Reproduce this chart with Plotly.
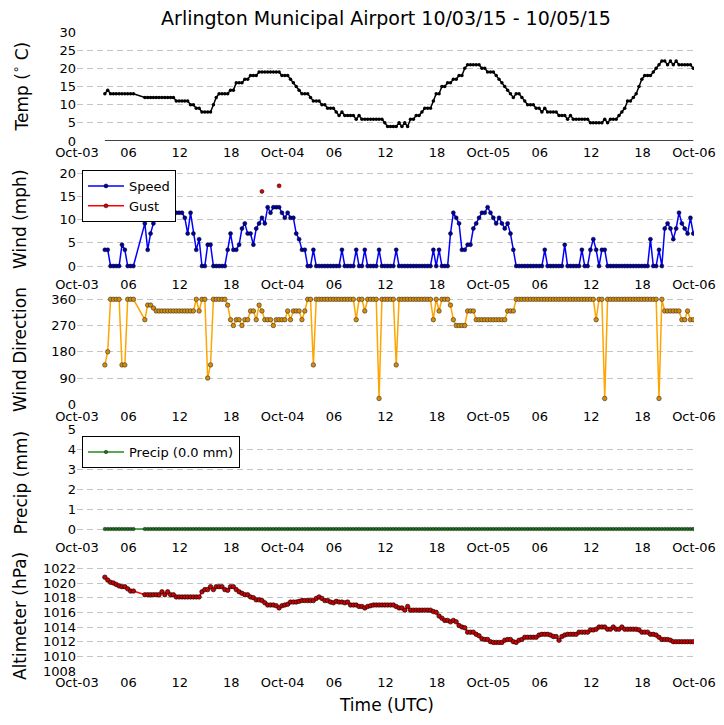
import pandas as pd
import plotly.graph_objects as go
from plotly.subplots import make_subplots

# observation times: every 20 min, three reports missing on Oct-03 morning
times = pd.date_range("2015-10-03 03:15", "2015-10-05 23:55", freq="20min")
times = times.drop(pd.to_datetime(["2015-10-03 06:55", "2015-10-03 07:15", "2015-10-03 07:35"]))

# one row per hour (:15, :35, :55)
temp = [
    13, 14, 13,  13, 13, 13,  13, 13, 13,  13, 13,  12,
    12, 12, 12,  12, 12, 12,  12, 12, 12,  12, 11, 11,
    11, 11, 11,  10, 10, 9,  9, 8, 8,  8, 8, 10,
    12, 13, 13,  13, 13, 14,  14, 16, 16,  16, 17, 17,
    18, 18, 18,  19, 19, 19,  19, 19, 19,  19, 19, 18,
    18, 18, 17,  16, 15, 14,  13, 13, 13,  12, 11, 11,
    11, 10, 10,  9, 9, 9,  8, 7, 8,  7, 7, 7,
    7, 6, 7,  6, 6, 6,  6, 6, 6,  6, 6, 5,
    4, 4, 4,  4, 5, 4,  5, 4, 6,  6, 7, 7,
    8, 9, 9,  9, 11, 13,  13, 15, 15,  16, 16, 17,
    17, 18, 18,  20, 21, 21,  21, 21, 21,  20, 20, 19,
    19, 19, 18,  17, 16, 15,  14, 13, 12,  13, 13, 12,
    11, 10, 10,  10, 9, 9,  8, 9, 8,  8, 8, 8,
    7, 7, 7,  6, 7, 6,  6, 6, 6,  6, 6, 5,
    5, 5, 5,  5, 6, 5,  6, 6, 6,  7, 8, 9,
    11, 11, 12,  13, 15, 17,  18, 18, 18,  19, 20, 21,
    22, 22, 21,  22, 21, 22,  21, 21, 21,  21, 21, 20,
]

speed = [
    3.5, 3.5, 0,  0, 0, 0,  4.6, 3.5, 0,  0, 0,  9.2,
    3.5, 7, 9.2,  11.5, 11.5, 10.4,  11.5, 11.5, 12.7,  11.5, 11.5, 11.5,
    11.5, 10.4, 7,  11.5, 7, 3.5,  5.8, 0, 0,  4.6, 4.6, 0,
    0, 0, 0,  0, 3.5, 7,  3.5, 3.5, 4.6,  8.1, 9.2, 7,
    7, 4.6, 8.1,  9.2, 10.4, 9.2,  12.7, 11.5, 12.7,  12.7, 12.7, 11.5,
    10.4, 11.5, 10.4,  10.4, 7, 5.8,  3.5, 3.5, 0,  0, 3.5, 0,
    0, 0, 0,  0, 0, 0,  0, 0, 3.5,  0, 0, 0,
    0, 3.5, 0,  0, 3.5, 0,  0, 0, 0,  3.5, 0, 0,
    0, 0, 0,  3.5, 0, 0,  0, 0, 0,  0, 0, 0,
    0, 0, 0,  0, 3.5, 0,  3.5, 0, 0,  0, 7, 11.5,
    10.4, 9.2, 3.5,  3.5, 4.6, 4.6,  8.1, 9.2, 10.4,  11.5, 11.5, 12.7,
    11.5, 10.4, 9.2,  10.4, 9.2, 8.1,  9.2, 7, 3.5,  0, 0, 0,
    0, 0, 0,  0, 0, 0,  0, 3.5, 0,  0, 0, 0,
    0, 0, 4.6,  0, 0, 0,  0, 0, 3.5,  0, 0, 3.5,
    5.8, 3.5, 0,  3.5, 3.5, 0,  0, 0, 0,  0, 0, 0,
    0, 0, 0,  0, 0, 0,  0, 0, 5.8,  0, 0, 3.5,
    0, 8.1, 9.2,  8.1, 5.8, 8.1,  11.5, 9.2, 8.1,  7, 10.4, 7,
]

gust_times = ["2015-10-03 10:35", "2015-10-03 21:35", "2015-10-03 23:35"]
gust = [16.1, 16.1, 17.3]

direction = [
    135, 180, 360,  360, 360, 360,  135, 135, 360,  360, 360,  290,
    340, 340, 330,  320, 320, 320,  320, 320, 320,  320, 320, 320,
    320, 320, 320,  320, 320, 360,  320, 360, 360,  90, 135, 360,
    360, 360, 360,  360, 340, 290,  270, 290, 290,  270, 290, 290,
    320, 320, 290,  340, 320, 290,  290, 290, 270,  290, 290, 290,
    290, 320, 290,  320, 320, 320,  290, 320, 360,  360, 135, 360,
    360, 360, 360,  360, 360, 360,  360, 360, 360,  360, 360, 360,
    360, 290, 360,  360, 320, 360,  360, 360, 360,  20, 360, 360,
    360, 360, 360,  135, 360, 360,  360, 360, 360,  360, 360, 360,
    360, 360, 360,  360, 290, 360,  320, 360, 360,  360, 340, 290,
    270, 270, 270,  270, 320, 320,  320, 290, 290,  290, 290, 290,
    290, 290, 290,  290, 290, 290,  320, 320, 320,  360, 360, 360,
    360, 360, 360,  360, 360, 360,  360, 360, 360,  360, 360, 360,
    360, 360, 360,  360, 360, 360,  360, 360, 360,  360, 360, 360,
    360, 290, 360,  360, 20, 360,  360, 360, 360,  360, 360, 360,
    360, 360, 360,  360, 360, 360,  360, 360, 360,  360, 360, 20,
    360, 320, 320,  320, 320, 320,  320, 290, 290,  320, 290, 290,
]

precip = [
    0, 0, 0,  0, 0, 0,  0, 0, 0,  0, 0,  0,
    0, 0, 0,  0, 0, 0,  0, 0, 0,  0, 0, 0,
    0, 0, 0,  0, 0, 0,  0, 0, 0,  0, 0, 0,
    0, 0, 0,  0, 0, 0,  0, 0, 0,  0, 0, 0,
    0, 0, 0,  0, 0, 0,  0, 0, 0,  0, 0, 0,
    0, 0, 0,  0, 0, 0,  0, 0, 0,  0, 0, 0,
    0, 0, 0,  0, 0, 0,  0, 0, 0,  0, 0, 0,
    0, 0, 0,  0, 0, 0,  0, 0, 0,  0, 0, 0,
    0, 0, 0,  0, 0, 0,  0, 0, 0,  0, 0, 0,
    0, 0, 0,  0, 0, 0,  0, 0, 0,  0, 0, 0,
    0, 0, 0,  0, 0, 0,  0, 0, 0,  0, 0, 0,
    0, 0, 0,  0, 0, 0,  0, 0, 0,  0, 0, 0,
    0, 0, 0,  0, 0, 0,  0, 0, 0,  0, 0, 0,
    0, 0, 0,  0, 0, 0,  0, 0, 0,  0, 0, 0,
    0, 0, 0,  0, 0, 0,  0, 0, 0,  0, 0, 0,
    0, 0, 0,  0, 0, 0,  0, 0, 0,  0, 0, 0,
    0, 0, 0,  0, 0, 0,  0, 0, 0,  0, 0, 0,
]

altimeter = [
    1020.8, 1020.4, 1020.1,  1020.0, 1019.8, 1019.6,  1019.5, 1019.5, 1019.2,  1018.9, 1018.9,  1018.4,
    1018.4, 1018.4, 1018.4,  1018.4, 1018.4, 1018.8,  1018.4, 1018.8, 1018.4,  1018.4, 1018.1, 1018.1,
    1018.1, 1018.1, 1018.1,  1018.1, 1018.1, 1018.1,  1018.1, 1018.8, 1019.1,  1019.1, 1019.5, 1019.1,
    1019.5, 1019.5, 1019.5,  1019.1, 1019.0, 1019.5,  1019.5, 1019.1, 1018.8,  1018.6, 1018.4, 1018.4,
    1018.1, 1018.0, 1017.7,  1017.7, 1017.6, 1017.3,  1017.0, 1017.0, 1017.0,  1016.9, 1016.6, 1016.9,
    1017.0, 1017.1, 1017.4,  1017.4, 1017.4, 1017.5,  1017.6, 1017.6, 1017.6,  1017.6, 1017.6, 1017.9,
    1018.1, 1017.9, 1017.6,  1017.6, 1017.4, 1017.3,  1017.5, 1017.4, 1017.4,  1017.3, 1017.4, 1017.0,
    1017.0, 1017.0, 1016.8,  1016.8, 1016.6, 1016.8,  1016.9, 1017.0, 1017.0,  1017.0, 1017.0, 1017.0,
    1017.0, 1017.0, 1017.0,  1016.8, 1016.6, 1016.6,  1016.3, 1016.8, 1016.3,  1016.3, 1016.3, 1016.3,
    1016.3, 1016.3, 1016.3,  1016.3, 1016.1, 1016.0,  1015.5, 1015.2, 1014.9,  1014.9, 1014.7, 1014.9,
    1014.7, 1014.2, 1014.0,  1013.9, 1013.3, 1013.3,  1013.3, 1013.0, 1012.8,  1012.4, 1012.3, 1012.3,
    1012.0, 1011.9, 1011.9,  1011.9, 1011.9, 1012.2,  1012.3, 1012.3, 1012.0,  1011.9, 1012.2, 1012.3,
    1012.6, 1012.6, 1012.6,  1012.6, 1012.6, 1012.9,  1013.0, 1013.0, 1013.0,  1012.9, 1012.7, 1012.7,
    1012.2, 1012.7, 1012.9,  1013.0, 1013.0, 1013.0,  1013.0, 1013.3, 1013.3,  1013.3, 1013.3, 1013.6,
    1013.6, 1013.7, 1014.0,  1014.0, 1014.0, 1013.7,  1013.7, 1014.0, 1013.7,  1013.7, 1014.0, 1013.7,
    1013.7, 1013.7, 1013.7,  1013.7, 1013.6, 1013.3,  1013.3, 1013.3, 1013.0,  1013.0, 1012.9, 1012.6,
    1012.3, 1012.3, 1012.3,  1012.2, 1012.0, 1012.0,  1012.0, 1012.0, 1012.0,  1012.0, 1012.0, 1012.0,
]

tick_times = ["2015-10-03 00:00", "2015-10-03 06:00", "2015-10-03 12:00", "2015-10-03 18:00",
              "2015-10-04 00:00", "2015-10-04 06:00", "2015-10-04 12:00", "2015-10-04 18:00",
              "2015-10-05 00:00", "2015-10-05 06:00", "2015-10-05 12:00", "2015-10-05 18:00",
              "2015-10-06 00:00"]
tick_labels = ["Oct-03", "06", "12", "18", "Oct-04", "06", "12", "18",
               "Oct-05", "06", "12", "18", "Oct-06"]

FONT = "DejaVu Sans"
OFF = 8                      # page body margin of the html page
W, H = 724 - OFF, 725 - OFF
LEFT, RIGHT = 77, 694        # plot area in window pixels
TOP, BOT = 32, 671


def frac(ypix):
    return (BOT - ypix) / (BOT - TOP)


def xfrac(xpix):
    return (xpix - LEFT) / (RIGHT - LEFT)


# gusts only where reported, gaps elsewhere
gust_series = pd.Series(gust, index=pd.to_datetime(gust_times)).reindex(times)

fig = make_subplots(rows=5, cols=1)

# temperature
fig.add_trace(go.Scatter(x=times, y=temp, mode="lines+markers",
                         line=dict(color="black", width=1.5),
                         marker=dict(color="black", size=3.5), showlegend=False), row=1, col=1)
fig.add_trace(go.Scatter(x=[times[0], times[-1]], y=[0, 0], mode="lines",
                         line=dict(color="black", width=1.5), showlegend=False), row=1, col=1)

# wind
fig.add_trace(go.Scatter(x=times, y=speed, mode="lines+markers", name="Speed",
                         line=dict(color="#0000ff", width=1.5),
                         marker=dict(color="#0000aa", size=4, line=dict(color="black", width=0.5))),
              row=2, col=1)
fig.add_trace(go.Scatter(x=times, y=gust_series, mode="lines+markers", name="Gust",
                         connectgaps=False, line=dict(color="#ff0000", width=1.5),
                         marker=dict(color="#dd0000", size=4, line=dict(color="black", width=0.5))),
              row=2, col=1)

# wind direction
fig.add_trace(go.Scatter(x=times, y=direction, mode="lines+markers",
                         line=dict(color="#ffa500", width=1.5),
                         marker=dict(color="#d98c00", size=4.5, line=dict(color="#333333", width=0.6)),
                         showlegend=False), row=3, col=1)

# precip
fig.add_trace(go.Scatter(x=times, y=precip, mode="lines+markers", name="Precip (0.0 mm)",
                         line=dict(color="#228b22", width=1.5),
                         marker=dict(color="#1f6f1f", size=3.5, line=dict(color="black", width=0.4)),
                         legend="legend2"), row=4, col=1)

# altimeter
fig.add_trace(go.Scatter(x=times, y=altimeter, mode="lines+markers",
                         line=dict(color="#ff0000", width=1.5),
                         marker=dict(color="#cc0000", size=4.5, line=dict(color="black", width=0.6)),
                         showlegend=False), row=5, col=1)

panels = [
    # (top px, bottom px, y range, tick values)
    (32, 141, [0, 30], [0, 5, 10, 15, 20, 25, 30]),
    (165, 273, [-1.5, 21.8], [0, 5, 10, 15, 20]),
    (295, 405, [-2.4, 374.7], [0, 90, 180, 270, 360]),
    (429, 536, [-0.35, 5.02], [0, 1, 2, 3, 4, 5]),
    (561, 671, [1008, 1023], [1008, 1010, 1012, 1014, 1016, 1018, 1020, 1022]),
]
for i, (top, bot, yr, yt) in enumerate(panels, start=1):
    fig.update_yaxes(row=i, col=1, domain=[frac(bot), frac(top)], range=yr, tickvals=yt,
                     showgrid=True, gridcolor="#c4c4c4", griddash="6px,4px", gridwidth=1,
                     zeroline=False, showline=False, ticks="", automargin=False,
                     tickfont=dict(family=FONT, size=13, color="black"))
    fig.update_xaxes(row=i, col=1, range=["2015-10-03 00:00", "2015-10-06 00:00"],
                     tickvals=tick_times, ticktext=tick_labels, showgrid=False,
                     zeroline=False, showline=False, ticks="", automargin=False,
                     ticklabelstandoff=2,
                     tickfont=dict(family=FONT, size=13, color="black"))

ytitles = ["Temp (<sup>∘</sup> C)", "Wind (mph)", "Wind Direction", "Precip (mm)", "Altimeter (hPa)"]
annotations = []
for (top, bot, _, _), t in zip(panels, ytitles):
    annotations.append(dict(text=t, xref="paper", yref="paper", x=xfrac(20),
                            y=frac((top + bot) / 2), xanchor="center", yanchor="middle",
                            textangle=-90, showarrow=False,
                            font=dict(family=FONT, size=17, color="black")))
annotations.append(dict(text="Time (UTC)", xref="paper", yref="paper", x=xfrac(386),
                        y=frac(705), xanchor="center", yanchor="middle", showarrow=False,
                        font=dict(family=FONT, size=17, color="black")))

legend_style = dict(xanchor="left", yanchor="top", bordercolor="black", borderwidth=1,
                    bgcolor="white", font=dict(family=FONT, size=13, color="black"),
                    itemwidth=36, tracegroupgap=0)

fig.update_layout(
    width=W, height=H,
    margin=dict(l=LEFT - OFF, r=W - (RIGHT - OFF), t=TOP - OFF, b=H - (BOT - OFF), autoexpand=False),
    paper_bgcolor="white", plot_bgcolor="white",
    title=dict(text="Arlington Municipal Airport 10/03/15 - 10/05/15",
               x=(386 - OFF) / W, y=1 - (18 - OFF) / H, xanchor="center", yanchor="middle",
               font=dict(family=FONT, size=19, color="black")),
    annotations=annotations,
    legend=dict(x=xfrac(82), y=frac(170), **legend_style),
    legend2=dict(x=xfrac(82), y=frac(436), **legend_style),
)

fig.write_html("out.html")
